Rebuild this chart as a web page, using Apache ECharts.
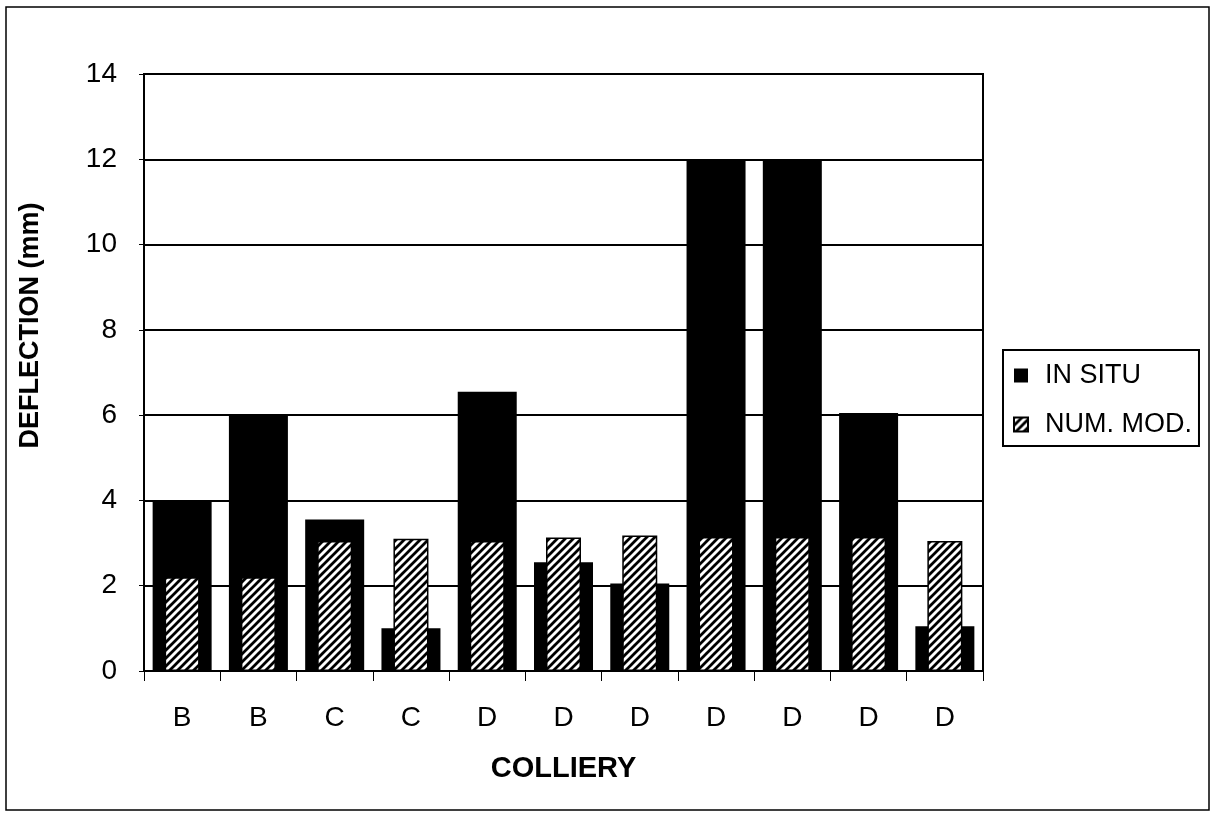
<!DOCTYPE html>
<html>
<head>
<meta charset="utf-8">
<script src="https://cdn.jsdelivr.net/npm/echarts@6/dist/echarts.min.js"></script>
<style>
html,body{margin:0;padding:0;background:#fff;}
#chart{width:1212px;height:813px;}
</style>
</head>
<body>
<div id="chart"></div>
<script>
const categories = ['B', 'B', 'C', 'C', 'D', 'D', 'D', 'D', 'D', 'D', 'D'];
const inSitu = [4.0, 6.0, 3.55, 1.0, 6.55, 2.55, 2.05, 12.0, 12.0, 6.05, 1.05];
const numMod = [2.2, 2.2, 3.05, 3.1, 3.05, 3.13, 3.18, 3.14, 3.14, 3.14, 3.05];
const seriesNames = ['IN SITU', 'NUM. MOD.'];
const yTicks = { min: 0, max: 14, interval: 2 };

function hatch() {
  const c = document.createElement('canvas');
  const s = 8;
  c.width = s; c.height = s;
  const g = c.getContext('2d');
  g.fillStyle = '#fff';
  g.fillRect(0, 0, s, s);
  g.strokeStyle = '#000';
  g.lineWidth = 2.8;
  g.beginPath();
  g.moveTo(-s, s * 2); g.lineTo(s * 2, -s);
  g.moveTo(-s * 2, s); g.lineTo(s, -s * 2);
  g.moveTo(0, s * 2); g.lineTo(s * 2, 0);
  g.moveTo(-s, s); g.lineTo(s, -s);
  g.moveTo(0, s); g.lineTo(s, 0);
  g.stroke();
  return c;
}

const font = 'Liberation Sans, Arial, sans-serif';
const chart = echarts.init(document.getElementById('chart'));
chart.setOption({
  backgroundColor: '#fff',
  animation: false,
  graphic: [{
    type: 'rect',
    shape: { x: 6, y: 7, width: 1203, height: 803 },
    style: { fill: 'none', stroke: '#000', lineWidth: 1.5 },
    silent: true, z: -10
  }],
  grid: {
    left: 144, right: 229, top: 74, bottom: 142,
    show: true, borderColor: '#000', borderWidth: 2, backgroundColor: 'transparent'
  },
  legend: {
    orient: 'vertical',
    left: 1003, top: 350,
    padding: [12, 7, 8, 10],
    itemWidth: 14, itemHeight: 14,
    itemGap: 22,
    borderColor: '#000', borderWidth: 2,
    icon: 'rect',
    textStyle: { fontFamily: font, fontSize: 27, color: '#000', lineHeight: 25, padding: [0, 0, 0, 12] },
    data: seriesNames
  },
  xAxis: [{
    type: 'category',
    data: categories,
    name: 'COLLIERY',
    nameLocation: 'middle',
    nameGap: 83,
    nameTextStyle: { fontFamily: font, fontSize: 29, fontWeight: 'bold', color: '#000' },
    axisLine: { lineStyle: { color: '#000', width: 2 } },
    axisTick: { show: true, alignWithLabel: false, length: 10, lineStyle: { color: '#000', width: 1 } },
    axisLabel: { fontFamily: font, fontSize: 28, color: '#000', margin: 33 }
  }, {
    type: 'category',
    data: categories,
    show: false,
    position: 'bottom'
  }],
  yAxis: {
    type: 'value',
    min: yTicks.min, max: yTicks.max, interval: yTicks.interval,
    name: 'DEFLECTION (mm)',
    nameLocation: 'middle',
    nameRotate: 90,
    nameGap: 100,
    nameTextStyle: { fontFamily: font, fontSize: 27, fontWeight: 'bold', color: '#000', padding: [0, 0, 0, 94] },
    axisLine: { show: true, lineStyle: { color: '#000', width: 2 } },
    axisTick: { show: true, length: 5, lineStyle: { color: '#000', width: 1 } },
    axisLabel: { fontFamily: font, fontSize: 28, color: '#000', margin: 27 },
    splitLine: { show: true, lineStyle: { color: '#000', width: 2 } }
  },
  series: [{
    name: seriesNames[0],
    type: 'bar',
    xAxisIndex: 0,
    data: inSitu,
    barWidth: 59,
    itemStyle: { color: '#000' },
    z: 2
  }, {
    name: seriesNames[1],
    type: 'bar',
    xAxisIndex: 1,
    data: numMod,
    barWidth: 35,
    itemStyle: { color: { image: hatch(), repeat: 'repeat' }, borderColor: '#000', borderWidth: 1.5 },
    z: 3
  }]
});
</script>
</body>
</html>
